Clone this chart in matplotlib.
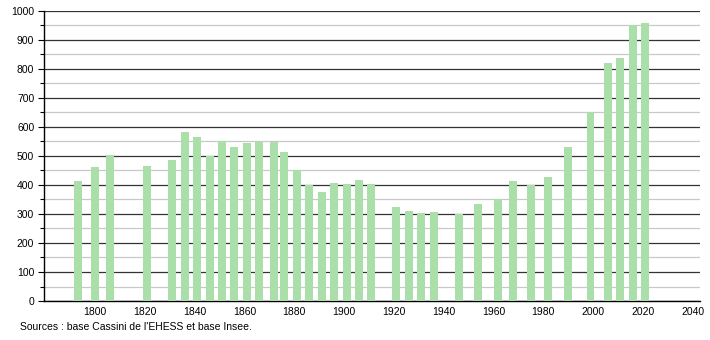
import matplotlib
matplotlib.use("Agg")
import matplotlib.pyplot as plt
from matplotlib.ticker import MultipleLocator

years = [1793, 1800, 1806, 1821, 1831, 1836, 1841, 1846, 1851, 1856, 1861, 1866,
         1872, 1876, 1881, 1886, 1891, 1896, 1901, 1906, 1911, 1921, 1926, 1931,
         1936, 1946, 1954, 1962, 1968, 1975, 1982, 1990, 1999, 2006, 2011, 2016, 2021]
population = [415, 462, 503, 466, 485, 582, 566, 500, 551, 531, 545, 549,
              549, 514, 451, 401, 375, 407, 403, 417, 403, 325, 311, 302,
              308, 300, 334, 352, 415, 400, 428, 531, 650, 820, 838, 952, 960]
x_ticks = [1800, 1820, 1840, 1860, 1880, 1900, 1920, 1940, 1960, 1980, 2000, 2020, 2040]
source_text = "Sources : base Cassini de l'EHESS et base Insee."

plt.rcParams['font.family'] = ['Liberation Sans Narrow', 'Liberation Sans', 'DejaVu Sans']

fig = plt.figure(figsize=(7.1, 3.4), dpi=100)
ax = fig.add_axes([0.062, 0.1147, 0.924, 0.853])

ax.bar(years, population, width=3.2, color='#aadfaa', zorder=3)

ax.set_xlim(1779.5, 2043)
ax.set_ylim(0, 1000)
ax.set_xticks(x_ticks)
ax.yaxis.set_major_locator(MultipleLocator(100))
ax.yaxis.set_minor_locator(MultipleLocator(50))

ax.grid(axis='y', which='major', color='#333333', linewidth=0.9, zorder=1)
ax.grid(axis='y', which='minor', color='#c8c8c8', linewidth=0.9, zorder=1)
ax.set_axisbelow(True)

for s in ['top', 'right']:
    ax.spines[s].set_visible(False)
ax.spines['left'].set_color('black')
ax.spines['bottom'].set_color('black')
ax.spines['left'].set_linewidth(1.0)
ax.spines['bottom'].set_linewidth(1.0)

ax.tick_params(axis='y', which='major', length=4, width=0.8, pad=3, labelsize=7.5, colors='black')
ax.tick_params(axis='y', which='minor', length=3, width=0.8)
ax.tick_params(axis='x', which='both', length=0, pad=4, labelsize=7.5)

fig.text(20 / 710, 1 - 327 / 340, source_text, fontsize=7.5, va='center', ha='left')

fig.savefig("out.png", dpi=100)
